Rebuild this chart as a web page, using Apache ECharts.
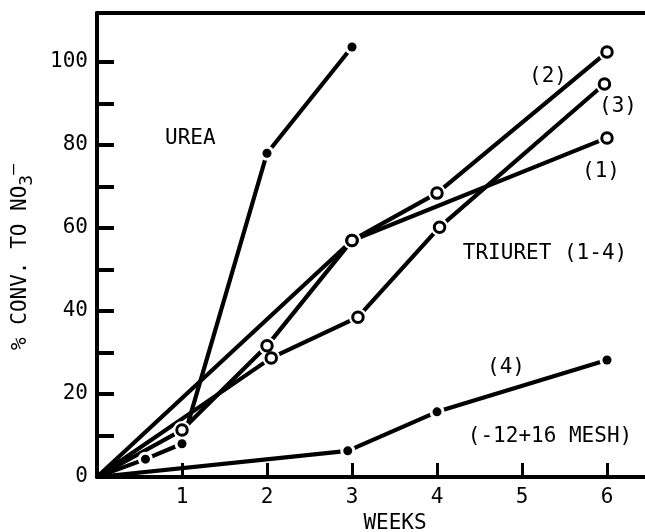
<!DOCTYPE html>
<html><head><meta charset="utf-8">
<script src="https://cdn.jsdelivr.net/npm/echarts@6/dist/echarts.min.js"></script>
<style>html,body{margin:0;padding:0;background:#fff}#c{width:645px;height:532px}</style>
</head><body><div id="c"></div>
<script>
// ---- data ----
const xTickValues = [1, 2, 3, 4, 5, 6];
const yLabelValues = [0, 20, 40, 60, 80, 100];
const yTickValues = [0, 10, 20, 30, 40, 50, 60, 70, 80, 90, 100];

const ureaWeeks = [0, 0.57, 1, 2, 3];
const ureaPct   = [0, 4.3, 8, 78, 103.6];

const tri1Weeks = [0, 3, 6];
const tri1Pct   = [0, 57, 81.7];

const tri2Weeks = [0, 1, 2, 3, 4, 6];
const tri2Pct   = [0, 11.3, 31.6, 57, 68.4, 102.4];

const tri3Weeks = [0, 2.05, 3.07, 4.03, 5.97];
const tri3Pct   = [0, 28.7, 38.5, 60.2, 94.7];

const tri4Weeks = [0, 2.95, 4, 6];
const tri4Pct   = [0, 6.3, 15.7, 28.2];

// ---- build ----
const FONT = 'DejaVu Sans Mono';
const FS = 21;
const zip = (xs, ys) => xs.map((x, i) => [x, ys[i]]);
const ureaPts = zip(ureaWeeks, ureaPct);
const t1 = zip(tri1Weeks, tri1Pct);
const t2 = zip(tri2Weeks, tri2Pct);
const t3 = zip(tri3Weeks, tri3Pct);
const t4 = zip(tri4Weeks, tri4Pct);

const openPts = [].concat(t1.slice(1), t2.slice(1), t3.slice(1));
const filledPts = [].concat(ureaPts.slice(1), t4.slice(1));

function lineSeries(name, data) {
  return { name, type: 'line', data, symbol: 'none', silent: true, z: 2,
    lineStyle: { color: '#000', width: 4.2, opacity: 1 }, animation: false };
}
function label(text, x, y, align) {
  return { type: 'text', x, y, silent: true,
    style: { text, font: FS + 'px ' + FONT, fill: '#000', align: align || 'center', verticalAlign: 'middle' } };
}

const chart = echarts.init(document.getElementById('c'), null, { renderer: 'canvas' });
chart.setOption({
  backgroundColor: '#fff',
  animation: false,
  grid: { left: 97, right: 0, top: 13, bottom: 55, outerBoundsMode: 'none', containLabel: false },
  xAxis: [{
    type: 'value', min: 0, max: 6.447,
    axisLine: { onZero: false, lineStyle: { color: '#000', width: 4 } },
    axisTick: { show: true, inside: true, length: 14, customValues: xTickValues, lineStyle: { color: '#000', width: 3 } },
    axisLabel: { customValues: xTickValues, margin: 10, color: '#000', fontSize: FS, fontFamily: FONT },
    splitLine: { show: false },
    name: 'WEEKS', nameLocation: 'middle', nameGap: 36,
    nameTextStyle: { color: '#000', fontSize: FS, fontFamily: FONT, padding: [0, 0, 0, 48] }
  }, {
    type: 'value', position: 'top', min: 0, max: 6.447,
    axisLine: { onZero: false, lineStyle: { color: '#000', width: 4 } },
    axisTick: { show: false }, axisLabel: { show: false }, splitLine: { show: false }
  }],
  yAxis: {
    type: 'value', min: 0, max: 111.8,
    axisLine: { onZero: false, lineStyle: { color: '#000', width: 4 } },
    axisTick: { show: true, inside: true, length: 17, customValues: yTickValues, lineStyle: { color: '#000', width: 4 } },
    axisLabel: { customValues: yLabelValues, margin: 9, color: '#000', fontSize: FS, fontFamily: FONT },
    splitLine: { show: false },
    name: '% CONV. TO NO{s|3}{p|\u2013}', nameLocation: 'middle', nameRotate: 90, nameGap: 60,
    nameTextStyle: { color: '#000', fontSize: FS, fontFamily: FONT, padding: [0, 24, 0, 0],
      rich: {
        s: { fontSize: 18, fontFamily: FONT, color: '#000', padding: [12, 0, 0, 0] },
        p: { fontSize: 18, fontFamily: FONT, color: '#000', padding: [0, 0, 14, 0] }
      } }
  },
  series: [
    lineSeries('UREA', ureaPts),
    lineSeries('(1)', t1),
    lineSeries('(2)', t2),
    lineSeries('(3)', t3),
    lineSeries('(4)', t4),
    { type: 'scatter', data: openPts, symbol: 'circle', symbolSize: 18, silent: true, z: 3,
      itemStyle: { color: '#fff', opacity: 1 } },
    { type: 'scatter', data: filledPts, symbol: 'circle', symbolSize: 15, silent: true, z: 3,
      itemStyle: { color: '#fff', opacity: 1 } },
    { type: 'scatter', data: openPts, symbol: 'circle', symbolSize: 10.5, silent: true, z: 4,
      itemStyle: { color: '#fff', borderColor: '#000', borderWidth: 3, opacity: 1 } },
    { type: 'scatter', data: filledPts, symbol: 'circle', symbolSize: 9, silent: true, z: 4,
      itemStyle: { color: '#000', opacity: 1 } }
  ],
  graphic: [
    label('UREA', 165, 139, 'left'),
    label('(2)', 548, 77),
    label('(3)', 618, 107),
    label('(1)', 601, 172),
    label('TRIURET (1-4)', 545, 254),
    label('(4)', 506, 368),
    label('(-12+16 MESH)', 550, 437)
  ]
});
</script>
</body></html>
